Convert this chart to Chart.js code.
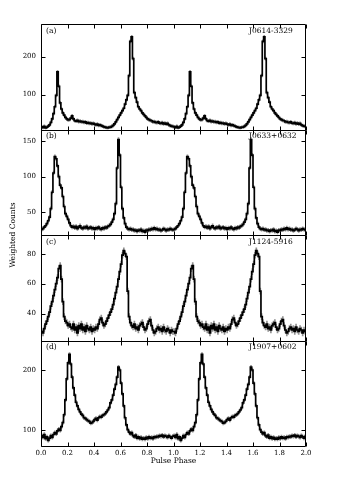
<!DOCTYPE html>
<html><head><meta charset="utf-8">
<script src="https://cdn.jsdelivr.net/npm/chart.js@4.4.1/dist/chart.umd.min.js"></script>
<style>html,body{margin:0;padding:0;background:#fff;}#wrap{position:relative;width:341px;height:485px;}</style>
</head><body><div id="wrap"><canvas id="c" width="341" height="485"></canvas></div>
<script>
// ---- data (one rotation, 100 phase bins of 0.01; plotted twice: phase 0-2) ----
const phaseTicks = [0.0, 0.2, 0.4, 0.6, 0.8, 1.0, 1.2, 1.4, 1.6, 1.8, 2.0];
const panelLabels = ['(a)', '(b)', '(c)', '(d)'];
const pulsarNames = ['J0614-3329', 'J0633+0632', 'J1124-5916', 'J1907+0602'];
const yTicksA = [100, 200];
const yTicksB = [50, 100, 150];
const yTicksC = [40, 60, 80];
const yTicksD = [100, 200];

const countsA = [15,13,16,12,14,17,20,27,36,50, 68,98,160,122,78,62,52,46,40,36,
  33,34,38,44,36,31,30,32,29,30, 28,29,27,28,25,26,24,25,23,24,
  22,20,22,19,20,18,17,15,14,13, 12,14,14,16,19,23,28,34,40,46,
  52,58,64,75,86,98,150,240,252,195, 105,92,80,68,62,58,52,48,44,40,
  36,34,32,31,28,29,27,26,28,25, 24,26,23,25,22,24,20,18,17,16];
const countsB = [26,27,29,31,34,38,43,55,78,105, 128,125,115,100,88,84,72,58,48,44,
  40,35,31,29,30,28,30,27,29,31, 28,27,29,28,30,27,28,29,27,28,
  26,28,27,29,27,26,28,27,29,28, 30,31,33,36,40,48,62,112,152,130,
  85,55,42,34,29,27,26,27,25,26, 24,25,23,25,24,26,23,24,22,25,
  24,26,25,27,26,28,26,27,25,26, 24,25,27,26,24,26,25,27,26,25];
const countsC = [28,27,30,33,35,38,41,45,48,52, 56,60,64,70,72,63,48,38,35,34,
  32,33,31,30,33,29,31,27,32,30, 33,29,31,28,32,30,29,31,28,30,
  29,31,30,33,36,37,34,32,33,35, 37,39,41,43,46,50,54,58,63,68,
  73,79,82,80,78,55,38,34,32,31, 33,30,31,29,32,33,34,31,29,30,
  33,35,36,32,29,27,28,30,31,29, 30,28,31,29,28,30,29,27,29,28];
const countsD = [90,87,92,85,88,82,86,90,87,92, 95,93,98,101,99,105,112,125,150,185,
  212,226,210,188,170,158,146,140,134,130, 126,124,120,119,117,115,114,111,112,114,
  117,119,116,120,122,121,124,125,127,130, 133,137,145,150,158,168,176,188,205,200,
  178,160,140,120,108,100,96,93,95,90, 88,91,86,88,85,87,84,86,84,87,
  85,88,86,87,85,88,87,89,88,90, 89,91,88,90,89,87,90,88,86,89];
// typical error-bar half widths per panel
const errA = 4, errB = 2.5, errC = 2, errD = 3;

const BIN = 0.01, ROT = 2;
const panels = [
  {id: 'yA', counts: countsA, err: errA, ticks: yTicksA, min: 8, max: 286},
  {id: 'yB', counts: countsB, err: errB, ticks: yTicksB, min: 18, max: 166},
  {id: 'yC', counts: countsC, err: errC, ticks: yTicksC, min: 22, max: 92.5},
  {id: 'yD', counts: countsD, err: errD, ticks: yTicksD, min: 72.7, max: 249.4}
];

function lineData(counts) {
  const all = [];
  for (let r = 0; r < ROT; r++) all.push(...counts);
  const pts = all.map((v, i) => ({x: i * BIN, y: v}));
  pts.push({x: all.length * BIN, y: all[all.length - 1]});
  return pts;
}
function errData(counts, e) {
  const all = [];
  for (let r = 0; r < ROT; r++) all.push(...counts);
  return all.map((v, i) => ({x: (i + 0.5) * BIN, y: [v - e, v + e]}));
}

const datasets = [];
panels.forEach(p => {
  datasets.push({type: 'bar', data: errData(p.counts, p.err), yAxisID: p.id, xAxisID: 'x',
    backgroundColor: '#909090', borderWidth: 0, barThickness: 1, grouped: false, order: 2});
  datasets.push({type: 'line', data: lineData(p.counts), yAxisID: p.id, xAxisID: 'x',
    borderColor: '#000', borderWidth: 1.7, pointRadius: 0, stepped: 'before', fill: false, order: 1});
});

const serif = '"DejaVu Serif", serif';
const scales = {
  x: {
    type: 'linear', position: 'bottom', min: 0, max: 2, offset: false,
    grid: {display: false, drawTicks: false, offset: false}, border: {display: false},
    afterBuildTicks: s => { s.ticks = phaseTicks.map(v => ({value: v})); },
    afterFit: s => { s.height = 39; },
    ticks: {font: {family: serif, size: 7}, color: '#000', padding: 3, maxRotation: 0, autoSkip: false,
      callback: v => Number(v).toFixed(1)},
    title: {display: true, text: 'Pulse Phase', font: {family: serif, size: 7.5}, color: '#000', padding: {top: 0, bottom: 19}}
  }
};
// define bottom panel first: stacked left axes are placed top-down in reverse definition order
[...panels].reverse().forEach(p => {
  scales[p.id] = {
    type: 'linear', position: 'left', stack: 'panels', stackWeight: 1, min: p.min, max: p.max,
    grid: {display: false, drawTicks: false}, border: {display: false},
    afterBuildTicks: s => { s.ticks = p.ticks.map(v => ({value: v})); },
    afterFit: s => { s.width = 41; },
    ticks: {font: {family: serif, size: 7}, color: '#000', padding: 5, callback: v => String(v)}
  };
});

const framePlugin = {
  id: 'frame',
  afterDatasetsDraw(chart) {
    const ctx = chart.ctx, ca = chart.chartArea, xs = chart.scales.x;
    const L = Math.round(ca.left) + 0.5, R = Math.round(ca.right) - 0.5;
    ctx.save();
    ctx.strokeStyle = '#000';
    ctx.lineWidth = 1;
    panels.forEach((p, k) => {
      const s = chart.scales[p.id];
      const T = Math.round(s.top) + 0.5, B = Math.round(s.bottom) + 0.5;
      ctx.beginPath();
      ctx.rect(L, T, R - L, B - T);
      s.ticks.forEach(t => {
        const y = Math.round(s.getPixelForValue(t.value)) + 0.5;
        ctx.moveTo(L, y); ctx.lineTo(L + 4, y);
        ctx.moveTo(R, y); ctx.lineTo(R - 4, y);
      });
      phaseTicks.forEach(v => {
        const x = Math.round(xs.getPixelForValue(v)) + 0.5;
        ctx.moveTo(x, T); ctx.lineTo(x, T + 4);
        ctx.moveTo(x, B); ctx.lineTo(x, B - 4);
      });
      ctx.stroke();
      ctx.fillStyle = '#000';
      ctx.font = '7.5px ' + serif;
      ctx.textBaseline = 'middle';
      ctx.textAlign = 'left';
      ctx.fillText(panelLabels[k], ca.left + 5, s.top + 7);
      ctx.fillText(pulsarNames[k], ca.left + 208, s.top + 7);
    });
    ctx.translate(13, (ca.top + ca.bottom) / 2);
    ctx.rotate(-Math.PI / 2);
    ctx.textAlign = 'center';
    ctx.fillText('Weighted Counts', 0, 0);
    ctx.restore();
  }
};

new Chart(document.getElementById('c'), {
  type: 'line',
  data: {datasets},
  options: {
    responsive: false, animation: false, devicePixelRatio: 1,
    layout: {padding: {top: 24, right: 35, bottom: 0, left: 0}},
    plugins: {legend: {display: false}, tooltip: {enabled: false}, title: {display: false}},
    scales
  },
  plugins: [framePlugin]
});
</script></body></html>
